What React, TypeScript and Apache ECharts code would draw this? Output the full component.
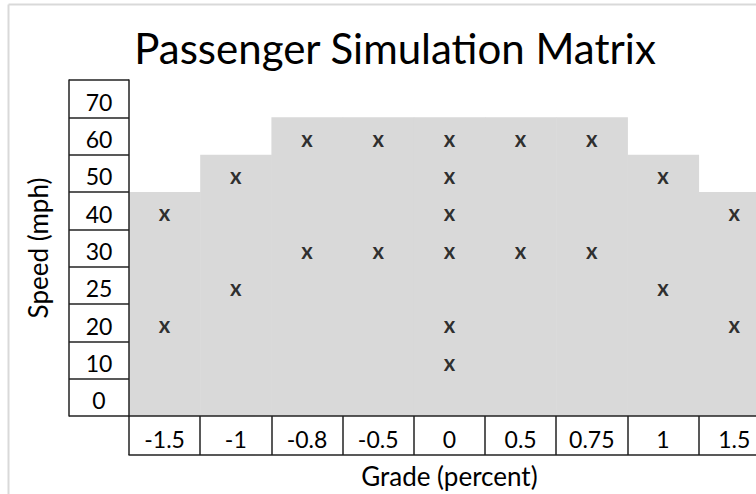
import React, { useEffect, useRef } from "react";
import * as echarts from "echarts";

const gradeCategories = ["-1.5", "-1", "-0.8", "-0.5", "0", "0.5", "0.75", "1", "1.5"];
const speedCategories = ["0", "10", "20", "25", "30", "40", "50", "60", "70"];
// top speed of the shaded envelope for each grade
const envelopeTop = ["40", "50", "60", "60", "60", "60", "60", "50", "40"];
// simulated points: [grade, speed]
const simGrades = ["-1.5", "-1.5", "-1", "-1", "-0.8", "-0.8", "-0.5", "-0.5", "0", "0", "0", "0", "0", "0", "0.5", "0.5", "0.75", "0.75", "1", "1", "1.5", "1.5"];
const simSpeeds = ["40", "20", "50", "25", "60", "30", "60", "30", "60", "50", "40", "30", "20", "10", "60", "30", "60", "30", "50", "25", "40", "20"];

const FONT = "Lato, 'Open Sans', sans-serif";

export default function App() {
  const ref = useRef<HTMLDivElement>(null);
  useEffect(() => {
    const chart = echarts.init(ref.current!, null, { renderer: "svg" });
    const envData = gradeCategories.map((g, i) => [g, envelopeTop[i]]);
    const ptData = simGrades.map((g, i) => [g, simSpeeds[i]]);
    const gridLeft = 129;
    const gridTop = 80;
    const colW = 71.2;
    const rowH = 37.9;
    chart.setOption({
      animation: false,
      backgroundColor: "#fff",
      title: {
        text: "Passenger Simulation Matrix",
        left: 390,
        textAlign: "center",
        top: 22,
        textStyle: { fontFamily: FONT, fontSize: 42, fontWeight: "normal", color: "#000" },
      },
      graphic: [
        { type: "line", shape: { x1: 8.5, y1: 4.5, x2: 790, y2: 4.5 }, style: { stroke: "#d9d9d9", lineWidth: 2 } },
        { type: "line", shape: { x1: 8.5, y1: 4.5, x2: 8.5, y2: 494 }, style: { stroke: "#d9d9d9", lineWidth: 2 } },
      ],
      grid: { left: gridLeft, top: gridTop, width: colW * 9, height: rowH * 9 },
      xAxis: [
        {
          type: "category",
          data: gradeCategories,
          position: "bottom",
          z: 10,
          axisLine: { show: true, lineStyle: { color: "#222", width: 1.5 } },
          axisTick: { show: true, length: 39, lineStyle: { color: "#222", width: 1.5 } },
          axisLabel: { margin: 23, verticalAlign: "middle", fontFamily: FONT, fontSize: 23, color: "#000" },
          name: "Grade (percent)",
          nameLocation: "middle",
          nameGap: 47,
          nameTextStyle: { fontFamily: FONT, fontSize: 26, color: "#000" },
          splitLine: { show: false },
        },
        {
          type: "category",
          data: gradeCategories,
          position: "bottom",
          offset: 39,
          z: 10,
          axisLine: { show: true, lineStyle: { color: "#222", width: 1.5 } },
          axisTick: { show: false },
          axisLabel: { show: false },
        },
      ],
      yAxis: [
        {
          type: "category",
          data: speedCategories,
          position: "left",
          z: 10,
          axisLine: { show: true, lineStyle: { color: "#222", width: 1.5 } },
          axisTick: { show: true, length: 60, lineStyle: { color: "#222", width: 1.5 } },
          axisLabel: {
            margin: 30,
            align: "center",
            formatter: (v: string) => `{a|${v}}`,
            rich: { a: { padding: [6, 0, 0, 0], fontFamily: FONT, fontSize: 23, color: "#000" } },
          },
          name: "Speed (mph)",
          nameLocation: "middle",
          nameGap: 78,
          nameRotate: 90,
          nameTextStyle: { fontFamily: FONT, fontSize: 26, color: "#000" },
          splitLine: { show: false },
        },
        {
          type: "category",
          data: speedCategories,
          position: "left",
          offset: 60,
          z: 10,
          axisLine: { show: true, lineStyle: { color: "#222", width: 1.5 } },
          axisTick: { show: false },
          axisLabel: { show: false },
        },
      ],
      series: [
        {
          type: "custom",
          xAxisIndex: 0,
          yAxisIndex: 0,
          data: envData,
          z: 1,
          silent: true,
          renderItem: (params: any, api: any) => {
            const xi = api.value(0);
            const top = api.value(1);
            const c = api.coord([xi, top]);
            const b = api.coord([xi, 0]);
            const s = api.size([1, 1]);
            const y0 = c[1] - s[1] / 2;
            const y1 = b[1] + s[1] / 2;
            return {
              type: "rect",
              shape: { x: c[0] - s[0] / 2, y: y0, width: s[0] + 0.5, height: y1 - y0 },
              style: { fill: "#d9d9d9" },
            };
          },
        },
        {
          type: "scatter",
          xAxisIndex: 0,
          yAxisIndex: 0,
          data: ptData,
          symbolSize: 1,
          itemStyle: { color: "rgba(0,0,0,0)" },
          z: 3,
          silent: true,
          label: {
            show: true,
            position: "inside",
            formatter: "x",
            fontFamily: FONT,
            fontSize: 22,
            fontWeight: "bold",
            color: "#000",
            offset: [0, 2],
          },
        },
      ],
    });
    return () => chart.dispose();
  }, []);
  return <div ref={ref} style={{ position: "fixed", left: 0, top: 0, width: 790, height: 494 }} />;
}
